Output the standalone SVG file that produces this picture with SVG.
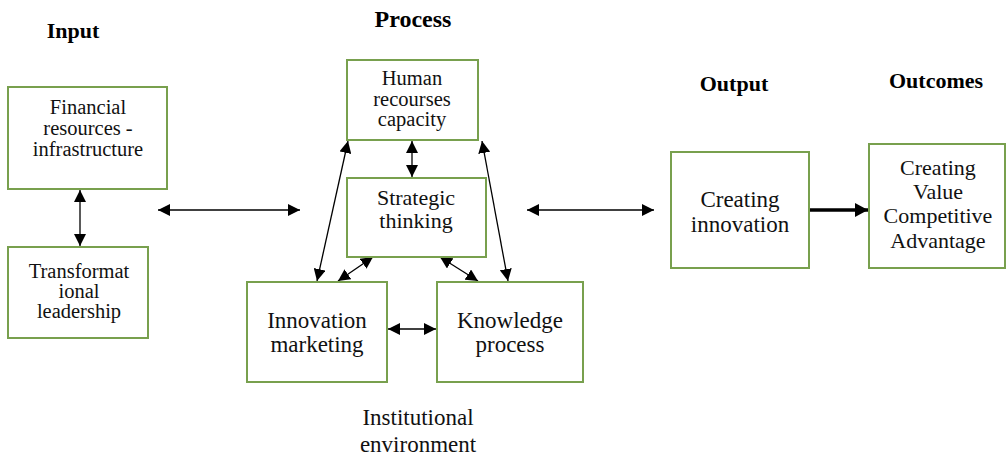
<svg xmlns="http://www.w3.org/2000/svg" width="1007" height="460" viewBox="0 0 1007 460">
  <defs>
    <marker id="head" markerUnits="userSpaceOnUse" markerWidth="13" markerHeight="12" refX="12" refY="6" orient="auto-start-reverse" viewBox="0 0 13 12">
      <path d="M0,0 L12,6 L0,12 z" fill="#000"/>
    </marker>
    <marker id="head-bold" markerUnits="userSpaceOnUse" markerWidth="14" markerHeight="14" refX="13" refY="7" orient="auto" viewBox="0 0 14 14">
      <path d="M0,0 L13,7 L0,14 z" fill="#000"/>
    </marker>
    <style>
      .box { fill: #fff; stroke: #78a04e; stroke-width: 2; }
      .lbl { fill: #111; text-anchor: middle; }
      .hdr { font-weight: bold; fill: #000; text-anchor: middle; }
      .link { stroke: #000; stroke-width: 1.3; fill: none; marker-start: url(#head); marker-end: url(#head); }
      .flow { stroke: #000; stroke-width: 3.5; fill: none; marker-end: url(#head-bold); }
    </style>
  </defs>

  <rect width="1007" height="460" fill="#fff"/>

  <g font-family="'Liberation Serif', 'DejaVu Serif', serif">
  <!-- column headings -->
  <text class="hdr" x="73" y="38" font-size="22">Input</text>
  <text class="hdr" x="413" y="27" font-size="24">Process</text>
  <text class="hdr" x="734" y="91" font-size="22">Output</text>
  <text class="hdr" x="936" y="88" font-size="22">Outcomes</text>

  <!-- connectors -->
  <g id="connectors">
    <line class="link" x1="80" y1="190" x2="80" y2="246"/>
    <line class="link" x1="158" y1="210" x2="300" y2="210"/>
    <line class="link" x1="527" y1="210" x2="654" y2="210"/>
    <line class="flow" x1="810" y1="210" x2="868" y2="210"/>
    <line class="link" x1="412" y1="141" x2="412" y2="177"/>
    <line class="link" x1="348" y1="141" x2="317" y2="281"/>
    <line class="link" x1="482" y1="141" x2="508" y2="281"/>
    <line class="link" x1="373" y1="257" x2="338" y2="281"/>
    <line class="link" x1="440" y1="257" x2="478" y2="281"/>
    <line class="link" x1="388" y1="329" x2="436" y2="329"/>
  </g>

  <!-- input nodes -->
  <g id="financial">
    <rect class="box" x="8" y="87" width="159" height="102"/>
    <text class="lbl" font-size="20.5"><tspan x="88" y="114">Financial</tspan><tspan x="88" y="135">resources -</tspan><tspan x="88" y="156">infrastructure</tspan></text>
  </g>
  <g id="transformational">
    <rect class="box" x="8" y="247" width="140" height="91"/>
    <text class="lbl" font-size="20.5"><tspan x="79" y="278">Transformat</tspan><tspan x="79" y="298">ional</tspan><tspan x="79" y="318">leadership</tspan></text>
  </g>

  <!-- process nodes -->
  <g id="human">
    <rect class="box" x="347" y="60" width="131" height="80"/>
    <text class="lbl" font-size="20.5"><tspan x="412" y="85">Human</tspan><tspan x="412" y="106">recourses</tspan><tspan x="412" y="126">capacity</tspan></text>
  </g>
  <g id="strategic">
    <rect class="box" x="347" y="178" width="139" height="79"/>
    <text class="lbl" font-size="22"><tspan x="416" y="205">Strategic</tspan><tspan x="416" y="228">thinking</tspan></text>
  </g>
  <g id="innovation-marketing">
    <rect class="box" x="247" y="282" width="140" height="100"/>
    <text class="lbl" font-size="23"><tspan x="317" y="328">Innovation</tspan><tspan x="317" y="352">marketing</tspan></text>
  </g>
  <g id="knowledge">
    <rect class="box" x="437" y="282" width="146" height="100"/>
    <text class="lbl" font-size="23"><tspan x="510" y="328">Knowledge</tspan><tspan x="510" y="352">process</tspan></text>
  </g>
  <g id="institutional">
    <text class="lbl" font-size="23"><tspan x="418" y="425">Institutional</tspan><tspan x="418" y="452">environment</tspan></text>
  </g>

  <!-- output and outcome nodes -->
  <g id="creating-innovation">
    <rect class="box" x="671" y="152" width="138" height="116"/>
    <text class="lbl" font-size="23"><tspan x="740" y="207">Creating</tspan><tspan x="740" y="232">innovation</tspan></text>
  </g>
  <g id="creating-value">
    <rect class="box" x="869" y="144" width="136" height="124"/>
    <text class="lbl" font-size="22"><tspan x="938" y="175">Creating</tspan><tspan x="938" y="199">Value</tspan><tspan x="938" y="223">Competitive</tspan><tspan x="938" y="248">Advantage</tspan></text>
  </g>
  </g>
</svg>
